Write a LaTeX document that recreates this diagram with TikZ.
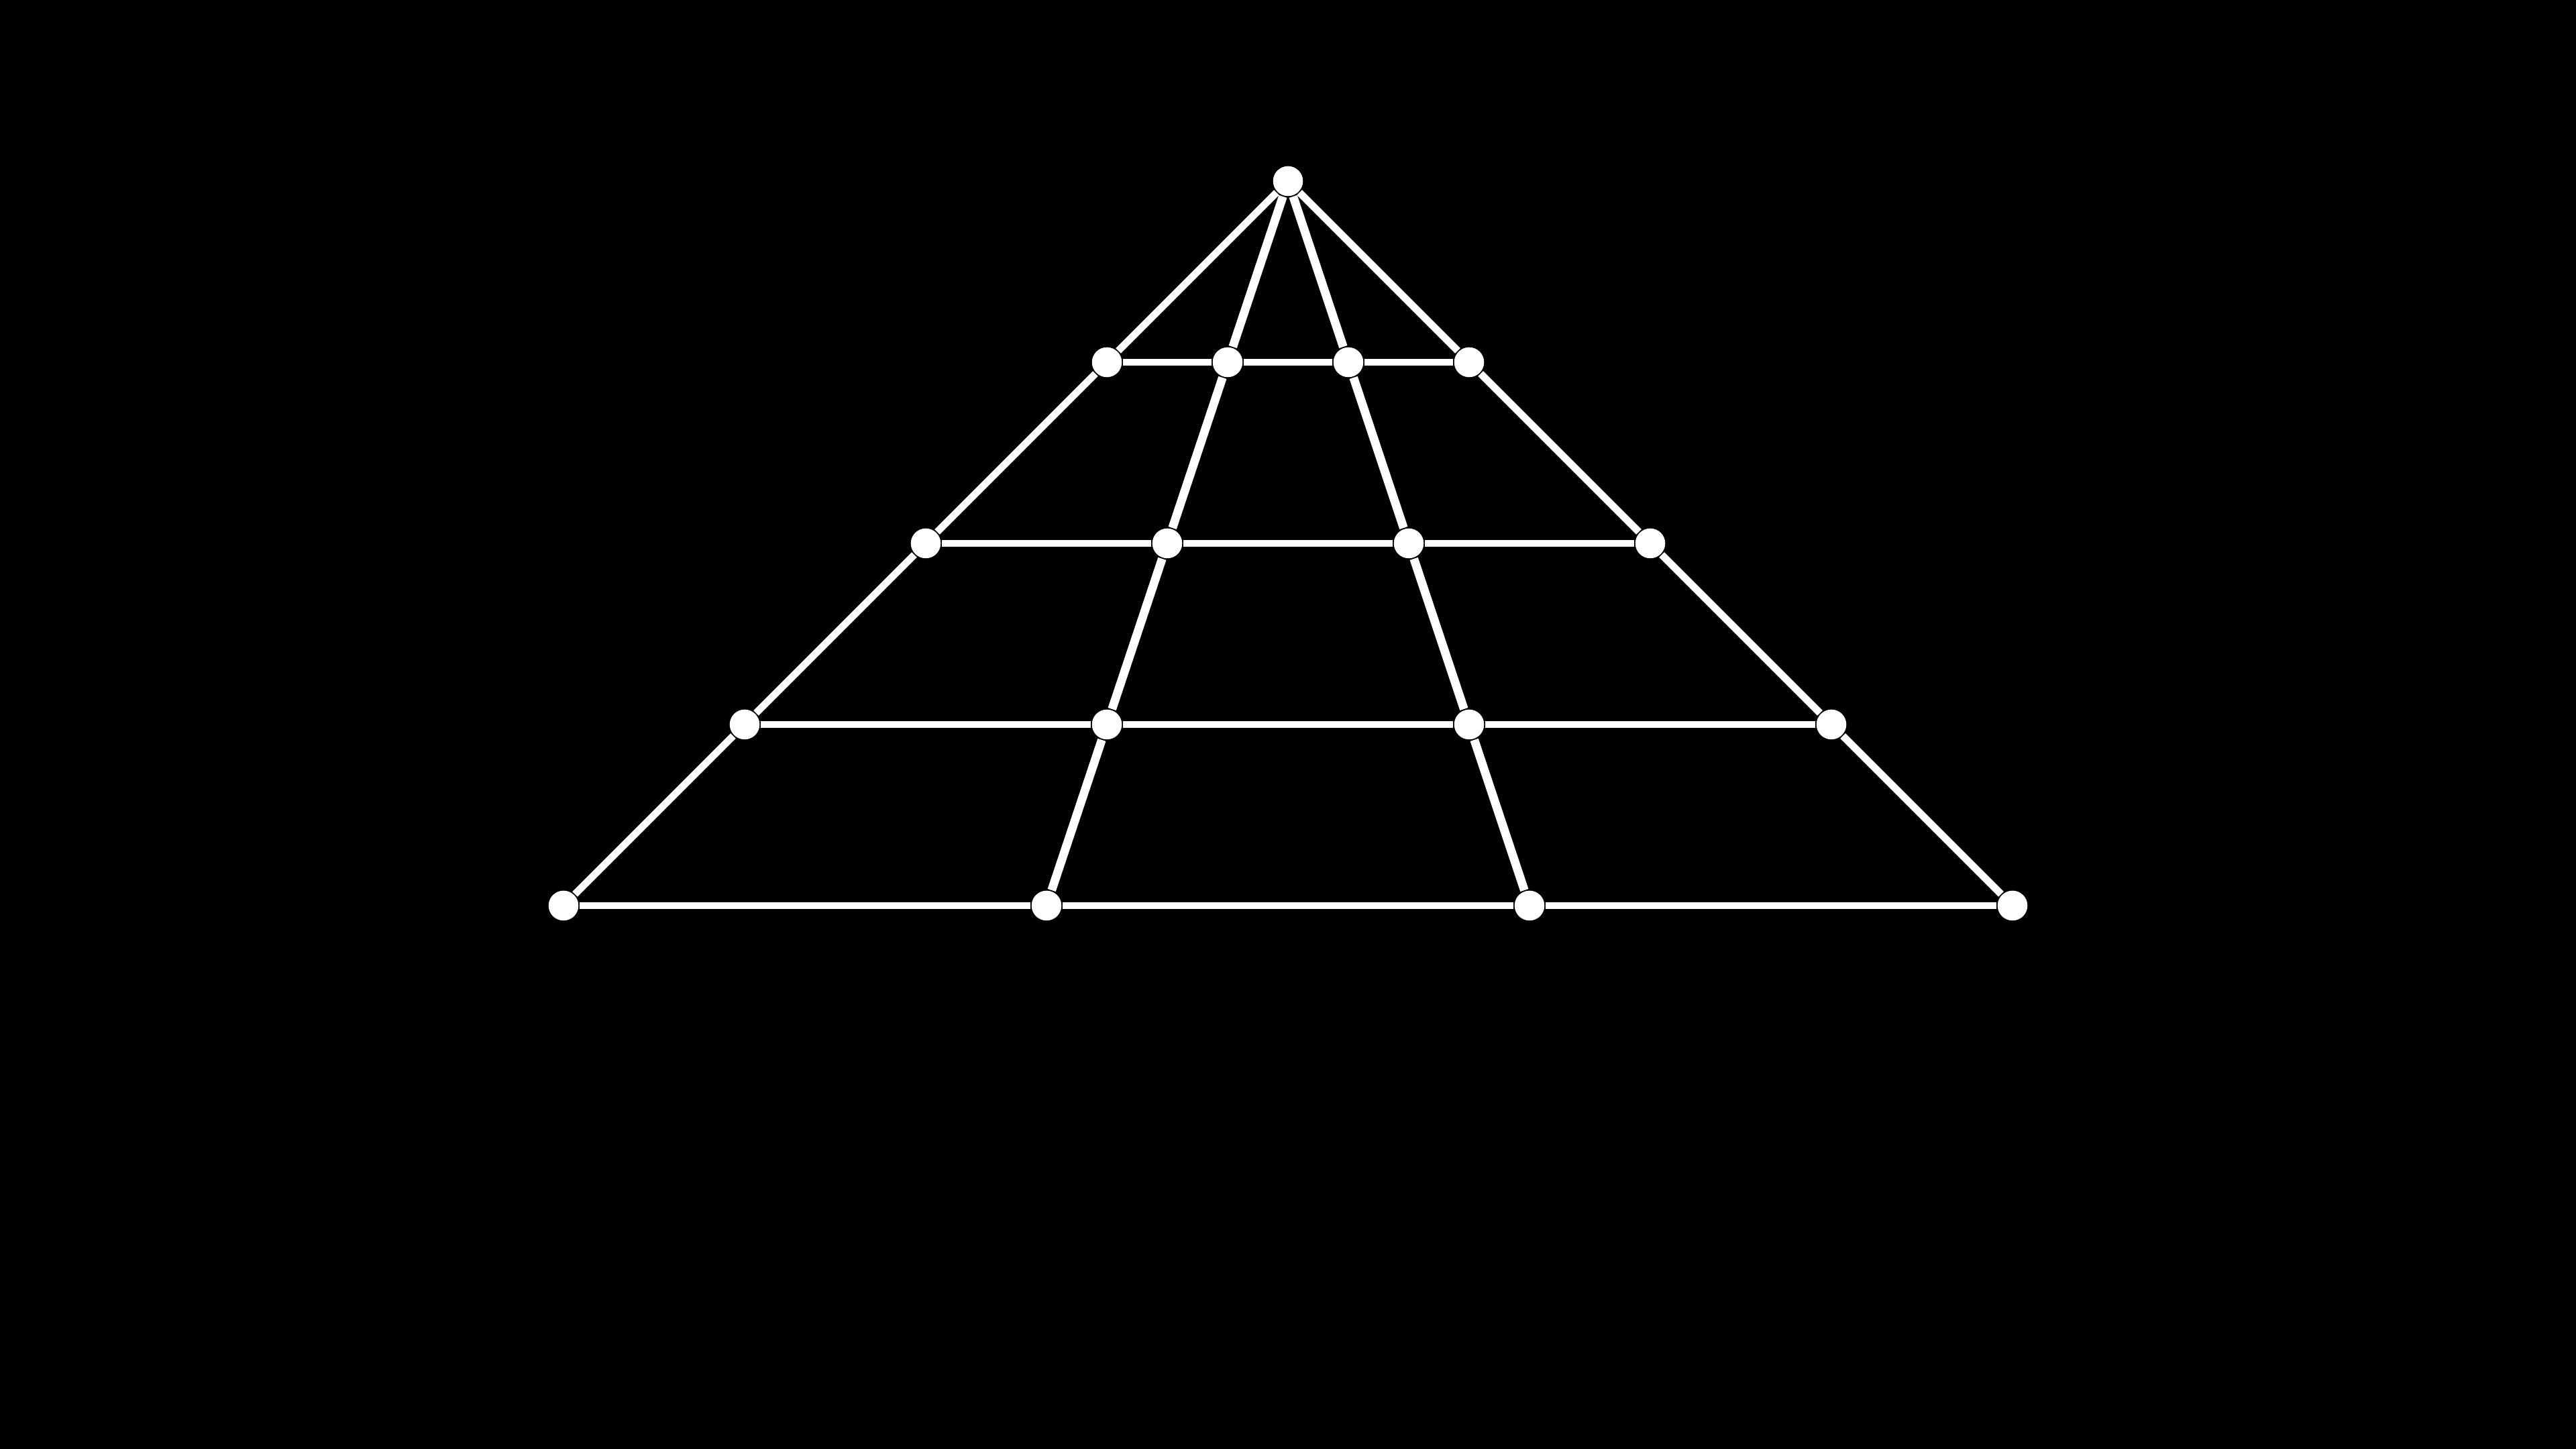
\documentclass[tikz,border=0pt]{standalone}
\begin{document}
\begin{tikzpicture}[x=1cm,y=1cm,
  dot/.style={circle,fill=white,draw=none,inner sep=0pt,minimum size=0.165cm},
  edge/.style={draw=white,line width=1.15pt},
  inner/.style={draw=white,line width=1.35pt}]
\fill[black] (0,0) rectangle (14.2222,8);
\useasboundingbox (0,0) rectangle (14.2222,8);
\def\cx{7.1111}
\node[dot] (A) at (\cx,7) {};
\foreach \k in {1,2,3,4}{
  \pgfmathsetmacro{\yy}{7-\k}
  \node[dot] (L\k) at ({\cx-\k},\yy) {};
  \node[dot] (l\k) at ({\cx-\k/3},\yy) {};
  \node[dot] (r\k) at ({\cx+\k/3},\yy) {};
  \node[dot] (R\k) at ({\cx+\k},\yy) {};
}
\foreach \k in {1,2,3,4}{
  \draw[edge] (L\k) -- (l\k) -- (r\k) -- (R\k);
}
\draw[edge] (A) -- (L1) -- (L2) -- (L3) -- (L4);
\draw[edge] (A) -- (R1) -- (R2) -- (R3) -- (R4);
\draw[inner] (A) -- (l1) -- (l2) -- (l3) -- (l4);
\draw[inner] (A) -- (r1) -- (r2) -- (r3) -- (r4);
\end{tikzpicture}
\end{document}
